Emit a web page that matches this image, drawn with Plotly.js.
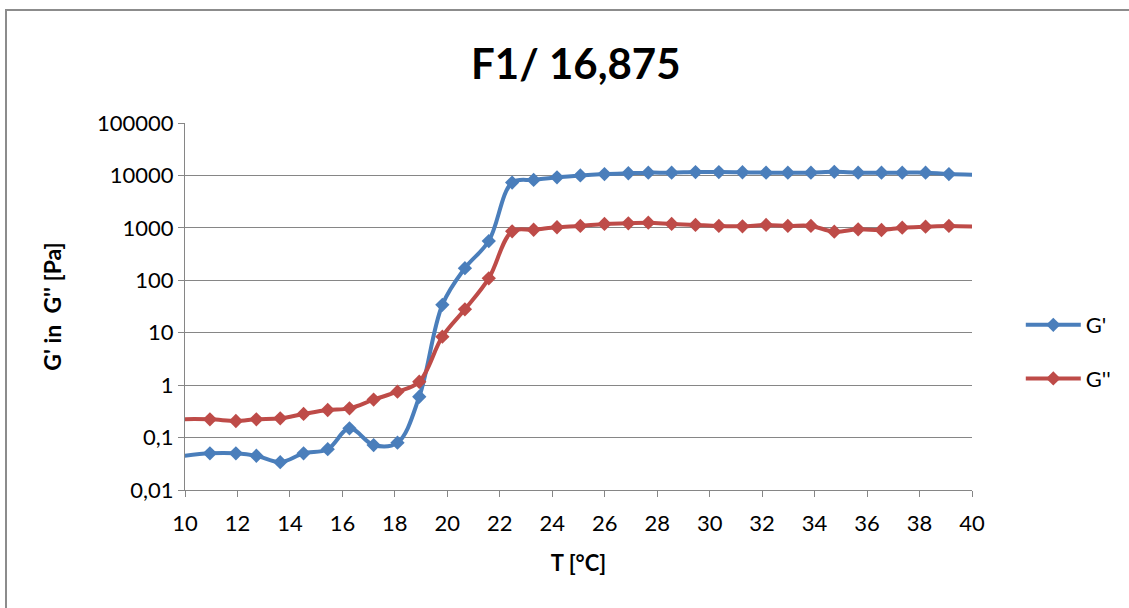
<!DOCTYPE html>
<html>
<head>
<meta charset="utf-8">
<script src="https://cdn.plot.ly/plotly-3.0.1.min.js"></script>
<style>
  html, body { margin: 0; padding: 0; background: #fff; }
  #wrap { position: relative; width: 1129px; height: 608px; }
  #chart { width: 1129px; height: 608px; }
  #frame { position: absolute; left: 5px; top: 9px; width: 1200px; height: 700px;
           border-top: 2px solid #8c8c8c; border-left: 2px solid #8c8c8c; pointer-events: none; }
</style>
</head>
<body>
<div id="wrap">
  <div id="chart"></div>
  <div id="frame"></div>
</div>
<script>
// Temperature [°C] (first and last points lie just outside the axis range)
const temperature = [9.2, 10.95, 11.94, 12.72, 13.63, 14.52, 15.44, 16.27, 17.19, 18.10, 18.93,
  19.81, 20.67, 21.58, 22.47, 23.29, 24.18, 25.07, 25.99, 26.90, 27.66,
  28.55, 29.46, 30.35, 31.25, 32.15, 32.98, 33.86, 34.75, 35.66, 36.55,
  37.34, 38.23, 39.12, 40.9];

// G' [Pa]
const gPrime = [0.040, 0.050, 0.050, 0.045, 0.034, 0.050, 0.060, 0.150, 0.072, 0.080, 0.60,
  34, 170, 560, 7300, 8200, 9200, 10000, 10600, 11000, 11300,
  11300, 11600, 11600, 11500, 11300, 11300, 11300, 11700, 11300, 11300,
  11300, 11300, 10600, 10200];

// G'' [Pa]
const gDoublePrime = [0.222, 0.223, 0.207, 0.223, 0.233, 0.282, 0.336, 0.361, 0.53, 0.75, 1.16,
  8.4, 27.9, 109, 860, 920, 1026, 1087, 1187, 1222, 1254,
  1187, 1135, 1087, 1070, 1135, 1087, 1087, 845, 939, 910,
  1009, 1052, 1087, 1020];

const yTickVals = [0.01, 0.1, 1, 10, 100, 1000, 10000, 100000];
const yTickText = ["0,01", "0,1", "1", "10", "100", "1000", "10000", "100000"];
const xTickVals = [10, 12, 14, 16, 18, 20, 22, 24, 26, 28, 30, 32, 34, 36, 38, 40];

const seriesNames = ["G'", "G''"];
const FONT = "Lato, Carlito, 'Open Sans', sans-serif";

const traces = [
  {
    x: temperature, y: gPrime, name: seriesNames[0], type: "scatter", mode: "lines+markers",
    line: { color: "#4A7EBB", width: 4, shape: "spline", smoothing: 1 },
    marker: { symbol: "diamond", size: 11, color: "#4A7EBB" },
    legendgroup: "a"
  },
  {
    x: temperature, y: gDoublePrime, name: seriesNames[1], type: "scatter", mode: "lines+markers",
    line: { color: "#BE4B48", width: 4, shape: "spline", smoothing: 1 },
    marker: { symbol: "diamond", size: 11, color: "#BE4B48" },
    legendgroup: "b"
  }
];

const layout = {
  width: 1129, height: 608,
  margin: { l: 185, r: 154, t: 123, b: 118 },
  paper_bgcolor: "#fff", plot_bgcolor: "#fff",
  font: { family: FONT, size: 22, color: "#000" },
  title: {
    text: "<b>F1/ 16,875</b>",
    font: { family: FONT, size: 42, color: "#000" },
    x: 0.51, xanchor: "center", y: 0.895, yanchor: "middle", yref: "container"
  },
  xaxis: {
    range: [10, 40], tickvals: xTickVals, ticktext: xTickVals.map(String),
    showgrid: false, zeroline: false,
    showline: true, linecolor: "#868686", linewidth: 1,
    ticks: "outside", ticklen: 6, tickcolor: "#868686",
    ticklabelstandoff: 8,
    tickfont: { family: FONT, size: 22 },
    title: { text: "<b>T [°C]</b>", font: { family: FONT, size: 22 }, standoff: 20 }
  },
  yaxis: {
    type: "log", range: [-2, 5], tickvals: yTickVals, ticktext: yTickText,
    showgrid: true, gridcolor: "#868686", gridwidth: 1, zeroline: false,
    showline: true, linecolor: "#868686", linewidth: 1,
    ticks: "outside", ticklen: 6, tickcolor: "#868686",
    tickfont: { family: FONT, size: 22 },
    title: { text: "<b>G' in  G'' [Pa]</b>", font: { family: FONT, size: 23 }, standoff: 28 }
  },
  showlegend: true,
  legend: {
    x: 1.062, xanchor: "left", y: 0.376, yanchor: "middle",
    font: { family: FONT, size: 22 }, itemwidth: 55, tracegroupgap: 22,
    bgcolor: "rgba(0,0,0,0)"
  }
};

Plotly.newPlot("chart", traces, layout, { staticPlot: true });
</script>
</body>
</html>
